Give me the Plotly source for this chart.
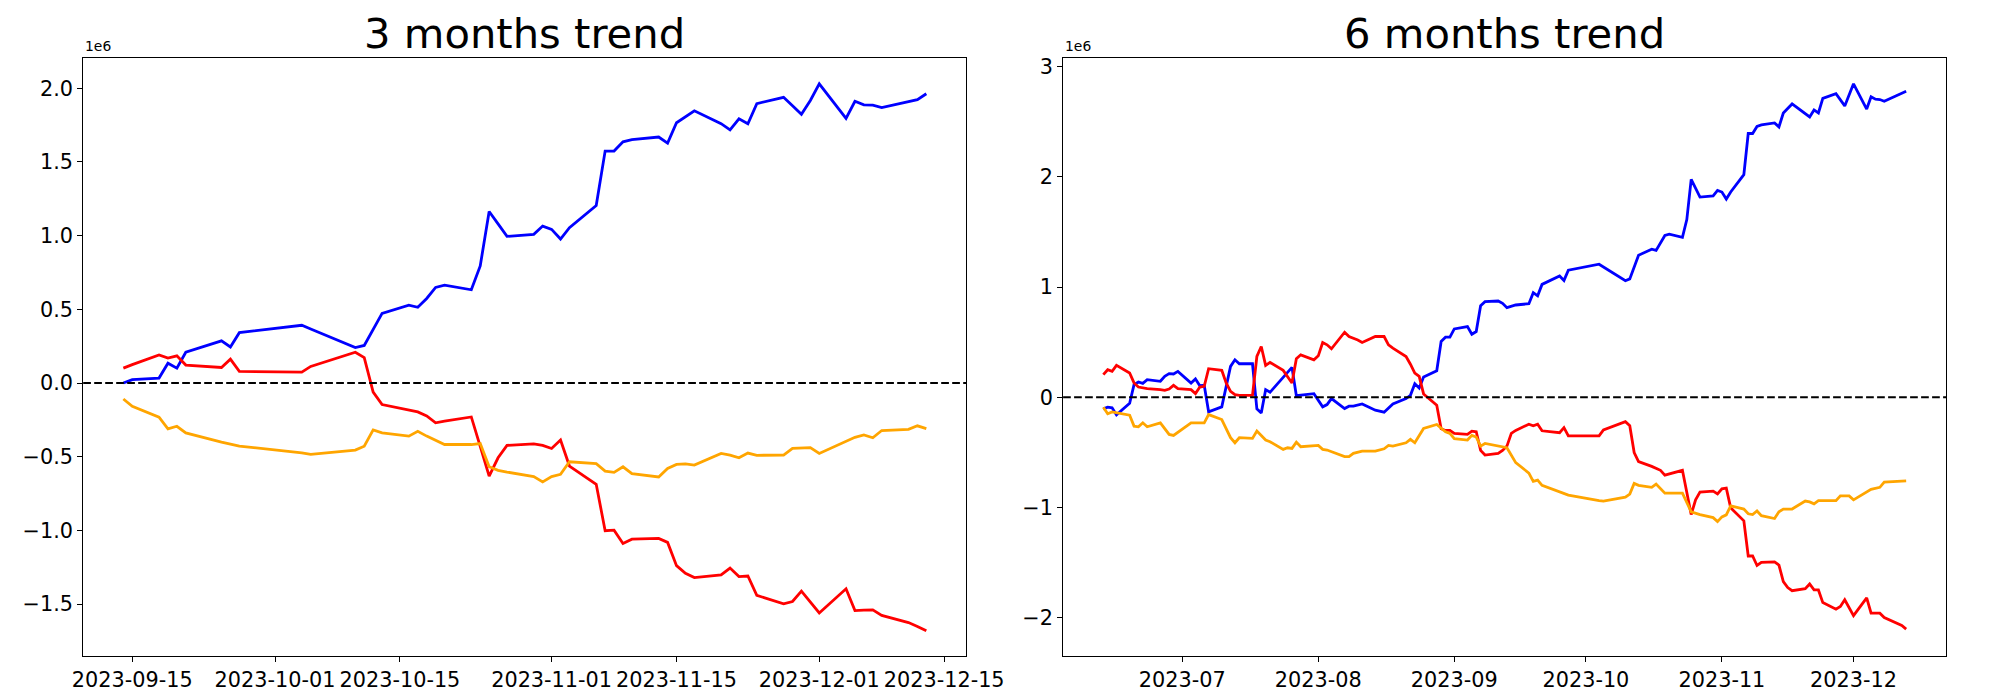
import plotly.graph_objects as go

# ---------------- data (values in units of 1e6) ----------------
dates_3m = ["2023-09-14", "2023-09-15", "2023-09-18", "2023-09-19", "2023-09-20", "2023-09-21",
            "2023-09-25", "2023-09-26", "2023-09-27",
            "2023-10-04", "2023-10-05", "2023-10-10", "2023-10-11", "2023-10-12", "2023-10-13",
            "2023-10-16", "2023-10-17", "2023-10-18", "2023-10-19", "2023-10-20", "2023-10-23",
            "2023-10-24", "2023-10-25", "2023-10-26", "2023-10-27", "2023-10-30", "2023-10-31",
            "2023-11-01", "2023-11-02", "2023-11-03", "2023-11-06", "2023-11-07", "2023-11-08",
            "2023-11-09", "2023-11-10", "2023-11-13", "2023-11-14", "2023-11-15", "2023-11-16",
            "2023-11-17", "2023-11-20", "2023-11-21", "2023-11-22", "2023-11-23", "2023-11-24",
            "2023-11-27", "2023-11-28", "2023-11-29", "2023-11-30",
            "2023-12-01", "2023-12-04", "2023-12-05", "2023-12-06", "2023-12-07", "2023-12-08",
            "2023-12-11", "2023-12-12", "2023-12-13"]

blue_3m = [0.000, 0.023, 0.034, 0.135, 0.101, 0.209, 0.286, 0.245, 0.342,
           0.392, 0.367, 0.241, 0.255, 0.364, 0.473, 0.529, 0.514, 0.574, 0.649, 0.664, 0.633,
           0.795, 1.164, 1.080, 0.995, 1.009, 1.065,
           1.043, 0.977, 1.054, 1.205, 1.574, 1.574, 1.637, 1.651, 1.669, 1.628, 1.766, 1.806,
           1.847, 1.760, 1.718, 1.793, 1.759, 1.896, 1.939, 1.881, 1.823, 1.917,
           2.030, 1.796, 1.912, 1.888, 1.885, 1.869, 1.912, 1.923, 1.963]

red_3m = [0.101, 0.125, 0.191, 0.169, 0.185, 0.122, 0.106, 0.162, 0.079,
          0.074, 0.113, 0.209, 0.173, -0.061, -0.146, -0.182, -0.196, -0.223, -0.270, -0.259, -0.230,
          -0.430, -0.631, -0.507, -0.423, -0.412, -0.423,
          -0.444, -0.387, -0.563, -0.687, -1.002, -0.998, -1.088, -1.059, -1.054, -1.081, -1.239, -1.291,
          -1.320, -1.302, -1.255, -1.313, -1.309, -1.440, -1.498, -1.482, -1.412, -1.490,
          -1.560, -1.396, -1.544, -1.541, -1.539, -1.576, -1.625, -1.651, -1.681]

orange_3m = [-0.108, -0.158, -0.232, -0.311, -0.293, -0.338, -0.400, -0.414, -0.428,
             -0.473, -0.484, -0.455, -0.428, -0.318, -0.338, -0.360, -0.327, -0.360, -0.390, -0.417, -0.417,
             -0.410, -0.568, -0.592, -0.604, -0.635, -0.671,
             -0.635, -0.619, -0.534, -0.547, -0.597, -0.606, -0.568, -0.615, -0.637, -0.579, -0.552, -0.548,
             -0.556, -0.477, -0.489, -0.507, -0.475, -0.490, -0.489, -0.443, -0.440, -0.438,
             -0.478, -0.397, -0.368, -0.352, -0.371, -0.322, -0.314, -0.290, -0.309]

blue_6m_dates = ["2023-06-13", "2023-06-14", "2023-06-15", "2023-06-16", "2023-06-19", "2023-06-20",
                 "2023-06-21", "2023-06-22", "2023-06-23", "2023-06-26", "2023-06-27", "2023-06-28",
                 "2023-06-29", "2023-06-30",
                 "2023-07-03", "2023-07-04", "2023-07-05", "2023-07-06", "2023-07-07", "2023-07-10",
                 "2023-07-12", "2023-07-13", "2023-07-14", "2023-07-17", "2023-07-18", "2023-07-19",
                 "2023-07-20", "2023-07-21", "2023-07-26", "2023-07-27", "2023-07-31",
                 "2023-08-02", "2023-08-03", "2023-08-04", "2023-08-07", "2023-08-08", "2023-08-09",
                 "2023-08-11", "2023-08-14", "2023-08-16", "2023-08-18", "2023-08-21", "2023-08-22",
                 "2023-08-23", "2023-08-24", "2023-08-25", "2023-08-28", "2023-08-29", "2023-08-30",
                 "2023-08-31",
                 "2023-09-01", "2023-09-04", "2023-09-05", "2023-09-06", "2023-09-07", "2023-09-08",
                 "2023-09-11", "2023-09-12", "2023-09-13", "2023-09-15", "2023-09-18", "2023-09-19",
                 "2023-09-20", "2023-09-21", "2023-09-25", "2023-09-26", "2023-09-27",
                 "2023-10-04", "2023-10-10", "2023-10-11", "2023-10-13", "2023-10-16", "2023-10-17",
                 "2023-10-19", "2023-10-20", "2023-10-23", "2023-10-24", "2023-10-25", "2023-10-27",
                 "2023-10-30", "2023-10-31",
                 "2023-11-01", "2023-11-02", "2023-11-03", "2023-11-06", "2023-11-07", "2023-11-08",
                 "2023-11-09", "2023-11-10", "2023-11-13", "2023-11-14", "2023-11-15", "2023-11-17",
                 "2023-11-21", "2023-11-22", "2023-11-23", "2023-11-24", "2023-11-27", "2023-11-29",
                 "2023-12-01", "2023-12-04", "2023-12-05", "2023-12-06", "2023-12-07", "2023-12-08",
                 "2023-12-11", "2023-12-13"]
blue_6m = [-0.105, -0.090, -0.096, -0.160, -0.055, 0.114, 0.139, 0.126, 0.160, 0.145, 0.190, 0.214,
           0.211, 0.235,
           0.129, 0.166, 0.105, 0.108, -0.132, -0.087, 0.280, 0.340, 0.304, 0.304, -0.105, -0.142,
           0.069, 0.045, 0.271, 0.015, 0.033,
           -0.087, -0.066, -0.012, -0.102, -0.081, -0.081, -0.060, -0.117, -0.135, -0.060, -0.012, 0.018,
           0.123, 0.084, 0.184, 0.241, 0.506, 0.545, 0.545,
           0.620, 0.641, 0.572, 0.596, 0.831, 0.867, 0.873, 0.852, 0.813, 0.837, 0.849, 0.949,
           0.920, 1.024, 1.100, 1.060, 1.153,
           1.207, 1.057, 1.074, 1.289, 1.343, 1.332, 1.468, 1.479, 1.451, 1.612, 1.977, 1.816,
           1.827, 1.877,
           1.862, 1.798, 1.862, 2.020, 2.393, 2.393, 2.457, 2.471, 2.489, 2.453, 2.579, 2.661,
           2.543, 2.607, 2.579, 2.711, 2.754, 2.643,
           2.844, 2.615, 2.726, 2.704, 2.701, 2.686, 2.740, 2.776]

red_6m_dates = ["2023-06-13", "2023-06-14", "2023-06-15", "2023-06-16", "2023-06-19", "2023-06-20",
                "2023-06-21", "2023-06-22", "2023-06-23", "2023-06-26", "2023-06-27", "2023-06-28",
                "2023-06-29", "2023-06-30",
                "2023-07-03", "2023-07-04", "2023-07-05", "2023-07-06", "2023-07-07", "2023-07-10",
                "2023-07-11", "2023-07-12", "2023-07-13", "2023-07-14", "2023-07-17", "2023-07-18",
                "2023-07-19", "2023-07-20", "2023-07-21", "2023-07-24", "2023-07-25", "2023-07-26",
                "2023-07-27", "2023-07-28", "2023-07-31",
                "2023-08-01", "2023-08-02", "2023-08-03", "2023-08-04", "2023-08-07", "2023-08-08",
                "2023-08-09", "2023-08-10", "2023-08-11", "2023-08-14", "2023-08-16", "2023-08-17",
                "2023-08-18", "2023-08-21", "2023-08-22", "2023-08-23", "2023-08-24", "2023-08-25",
                "2023-08-28", "2023-08-29", "2023-08-30", "2023-08-31",
                "2023-09-01", "2023-09-04", "2023-09-05", "2023-09-06", "2023-09-07", "2023-09-08",
                "2023-09-11", "2023-09-12", "2023-09-13", "2023-09-14", "2023-09-15", "2023-09-18",
                "2023-09-19", "2023-09-20", "2023-09-21", "2023-09-25", "2023-09-26", "2023-09-27",
                "2023-10-04", "2023-10-05", "2023-10-10", "2023-10-11", "2023-10-12", "2023-10-13",
                "2023-10-16", "2023-10-17", "2023-10-18", "2023-10-19", "2023-10-23", "2023-10-25",
                "2023-10-26", "2023-10-27", "2023-10-30", "2023-10-31",
                "2023-11-01", "2023-11-02", "2023-11-03", "2023-11-06", "2023-11-07", "2023-11-08",
                "2023-11-09", "2023-11-10", "2023-11-13", "2023-11-14", "2023-11-15", "2023-11-16",
                "2023-11-17", "2023-11-20", "2023-11-21", "2023-11-22", "2023-11-23", "2023-11-24",
                "2023-11-27", "2023-11-28", "2023-11-29",
                "2023-12-01", "2023-12-04", "2023-12-05", "2023-12-07", "2023-12-08", "2023-12-11",
                "2023-12-12", "2023-12-13"]
red_6m = [0.205, 0.250, 0.235, 0.289, 0.220, 0.130, 0.093, 0.085, 0.078, 0.069, 0.063, 0.075,
          0.108, 0.078,
          0.069, 0.033, 0.093, 0.099, 0.259, 0.244, 0.130, 0.054, 0.024, 0.018, 0.018, 0.370,
          0.461, 0.289, 0.316, 0.244, 0.190, 0.129, 0.349, 0.385, 0.340,
          0.376, 0.497, 0.476, 0.440, 0.590, 0.551, 0.536, 0.520, 0.497, 0.551, 0.551, 0.476,
          0.446, 0.370, 0.300, 0.220, 0.190, 0.030, -0.072, -0.286, -0.301, -0.301,
          -0.328, -0.337, -0.307, -0.313, -0.482, -0.524, -0.509, -0.482, -0.443, -0.328, -0.301, -0.244,
          -0.258, -0.244, -0.304, -0.322, -0.276, -0.351,
          -0.351, -0.297, -0.222, -0.258, -0.501, -0.584, -0.627, -0.645, -0.663, -0.706, -0.663, -1.064,
          -0.930, -0.860, -0.852, -0.877,
          -0.831, -0.824, -1.003, -1.121, -1.440, -1.440, -1.526, -1.497, -1.494, -1.522, -1.672, -1.726,
          -1.755, -1.737, -1.694, -1.748, -1.748, -1.863, -1.923, -1.898, -1.837,
          -1.981, -1.820, -1.959, -1.959, -1.998, -2.049, -2.070, -2.103]

orange_6m_dates = ["2023-06-13", "2023-06-14", "2023-06-15", "2023-06-16", "2023-06-19", "2023-06-20",
                   "2023-06-21", "2023-06-22", "2023-06-23", "2023-06-26", "2023-06-27", "2023-06-28",
                   "2023-06-29", "2023-06-30",
                   "2023-07-03", "2023-07-06", "2023-07-07", "2023-07-10", "2023-07-12", "2023-07-13",
                   "2023-07-14", "2023-07-17", "2023-07-18", "2023-07-20", "2023-07-21", "2023-07-24",
                   "2023-07-25", "2023-07-26", "2023-07-27", "2023-07-28",
                   "2023-08-01", "2023-08-02", "2023-08-03", "2023-08-07", "2023-08-08", "2023-08-09",
                   "2023-08-11", "2023-08-14", "2023-08-16", "2023-08-17", "2023-08-18", "2023-08-21",
                   "2023-08-22", "2023-08-23", "2023-08-25", "2023-08-28", "2023-08-29", "2023-08-30",
                   "2023-08-31",
                   "2023-09-01", "2023-09-04", "2023-09-05", "2023-09-06", "2023-09-07", "2023-09-08",
                   "2023-09-13", "2023-09-15", "2023-09-18", "2023-09-19", "2023-09-20", "2023-09-21",
                   "2023-09-25", "2023-09-27",
                   "2023-10-04", "2023-10-05", "2023-10-10", "2023-10-11", "2023-10-12", "2023-10-13",
                   "2023-10-16", "2023-10-17", "2023-10-19", "2023-10-20", "2023-10-23", "2023-10-25",
                   "2023-10-27", "2023-10-30", "2023-10-31",
                   "2023-11-01", "2023-11-02", "2023-11-03", "2023-11-06", "2023-11-07", "2023-11-08",
                   "2023-11-09", "2023-11-10", "2023-11-13", "2023-11-14", "2023-11-15", "2023-11-17",
                   "2023-11-20", "2023-11-21", "2023-11-22", "2023-11-23", "2023-11-27", "2023-11-28",
                   "2023-11-30",
                   "2023-12-01", "2023-12-05", "2023-12-07", "2023-12-08", "2023-12-11", "2023-12-13"]
orange_6m = [-0.090, -0.150, -0.133, -0.142, -0.163, -0.262, -0.268, -0.232, -0.268, -0.232, -0.280, -0.337,
             -0.346, -0.316,
             -0.232, -0.232, -0.157, -0.202, -0.367, -0.413, -0.367, -0.373, -0.307, -0.388, -0.403, -0.473,
             -0.458, -0.464, -0.407, -0.449,
             -0.437, -0.473, -0.479, -0.539, -0.539, -0.509, -0.488, -0.488, -0.467, -0.437, -0.443, -0.413,
             -0.382, -0.413, -0.283, -0.247, -0.283, -0.313, -0.328,
             -0.376, -0.388, -0.346, -0.361, -0.443, -0.419, -0.458, -0.593, -0.688, -0.763, -0.752, -0.799,
             -0.860, -0.888,
             -0.938, -0.942, -0.906, -0.878, -0.781, -0.799, -0.817, -0.788, -0.870, -0.870, -0.870, -1.039,
             -1.064, -1.092, -1.128,
             -1.085, -1.067, -0.985, -1.014, -1.057, -1.064, -1.032, -1.074, -1.100, -1.039, -1.014, -1.014,
             -0.942, -0.949, -0.967, -0.938, -0.938, -0.895, -0.895,
             -0.931, -0.835, -0.817, -0.770, -0.763, -0.759]

titles = ["3 months trend", "6 months trend"]
x_ticks_3m = ["2023-09-15", "2023-10-01", "2023-10-15", "2023-11-01", "2023-11-15", "2023-12-01", "2023-12-15"]
x_ticks_6m = ["2023-07-01", "2023-08-01", "2023-09-01", "2023-10-01", "2023-11-01", "2023-12-01"]
x_labels_6m = ["2023-07", "2023-08", "2023-09", "2023-10", "2023-11", "2023-12"]
y_ticks_3m = [-1.5, -1.0, -0.5, 0.0, 0.5, 1.0, 1.5, 2.0]
y_labels_3m = ["\u22121.5", "\u22121.0", "\u22120.5", "0.0", "0.5", "1.0", "1.5", "2.0"]
y_ticks_6m = [-2, -1, 0, 1, 2, 3]
y_labels_6m = ["\u22122", "\u22121", "0", "1", "2", "3"]
offset_label = "1e6"

# ---------------- figure ----------------
FONT = "DejaVu Sans"
W, H = 2000, 700
LW = 2.8

fig = go.Figure()

left_series = [(blue_3m, "blue"), (red_3m, "red"), (orange_3m, "orange")]
for vals, col in left_series:
    fig.add_trace(go.Scatter(x=dates_3m, y=vals, mode="lines", line=dict(color=col, width=LW),
                             xaxis="x", yaxis="y", showlegend=False, hoverinfo="skip"))

right_series = [(blue_6m_dates, blue_6m, "blue"), (red_6m_dates, red_6m, "red"),
                (orange_6m_dates, orange_6m, "orange")]
for ds, vals, col in right_series:
    fig.add_trace(go.Scatter(x=ds, y=vals, mode="lines", line=dict(color=col, width=LW),
                             xaxis="x2", yaxis="y2", showlegend=False, hoverinfo="skip"))

# pixel geometry of the two axes boxes
L1, R1 = 75, 980
L2, R2 = 1079, 1984
TOP, BOT = 55, 656
ydom = [1 - BOT / H, 1 - TOP / H]

axis_common = dict(showline=True, mirror=True, linecolor="black", linewidth=1.1,
                   ticks="outside", ticklen=5, tickwidth=1.1, tickcolor="black",
                   showgrid=False, zeroline=False,
                   tickfont=dict(family=FONT, size=20.8, color="black"))

fig.update_layout(
    width=W, height=H,
    margin=dict(l=0, r=0, t=0, b=0),
    paper_bgcolor="white", plot_bgcolor="white",
    font=dict(family=FONT, color="black"),
    xaxis=dict(domain=[L1 / W, R1 / W], anchor="y", type="date",
               range=["2023-09-09 12:00", "2023-12-17 12:00"],
               tickmode="array", tickvals=x_ticks_3m, ticktext=x_ticks_3m, **axis_common),
    yaxis=dict(domain=ydom, anchor="x", range=[-1.853, 2.207],
               tickmode="array", tickvals=y_ticks_3m, ticktext=y_labels_3m, **axis_common),
    xaxis2=dict(domain=[L2 / W, R2 / W], anchor="y2", type="date",
                range=["2023-06-03 20:00", "2023-12-22 04:00"],
                tickmode="array", tickvals=x_ticks_6m, ticktext=x_labels_6m, **axis_common),
    yaxis2=dict(domain=ydom, anchor="x2", range=[-2.349, 3.080],
                tickmode="array", tickvals=y_ticks_6m, ticktext=y_labels_6m, **axis_common),
)

# dashed zero lines (axhline)
for xr, yr in [("x domain", "y"), ("x2 domain", "y2")]:
    fig.add_shape(type="line", xref=xr, yref=yr, x0=0, x1=1, y0=0, y1=0,
                  line=dict(color="black", width=2.1, dash="7.7px,3.3px"))

# titles and offset labels
for (lft, rgt), title in zip([(L1, R1), (L2, R2)], titles):
    fig.add_annotation(xref="paper", yref="paper", x=(lft + rgt) / 2 / W, y=1 - 57 / H,
                       xanchor="center", yanchor="bottom", showarrow=False, text=title,
                       font=dict(family=FONT, size=41.7, color="black"))
    fig.add_annotation(xref="paper", yref="paper", x=lft / W, y=1 - 53 / H,
                       xanchor="left", yanchor="bottom", showarrow=False, text=offset_label,
                       font=dict(family=FONT, size=13.9, color="black"))

# remove the default page margin so the 2000x700 figure fills the window exactly
page_fix = "document.body.style.margin='0px';document.body.style.overflow='hidden';"
fig.write_html("out.html", post_script=page_fix, config={"displayModeBar": False})
